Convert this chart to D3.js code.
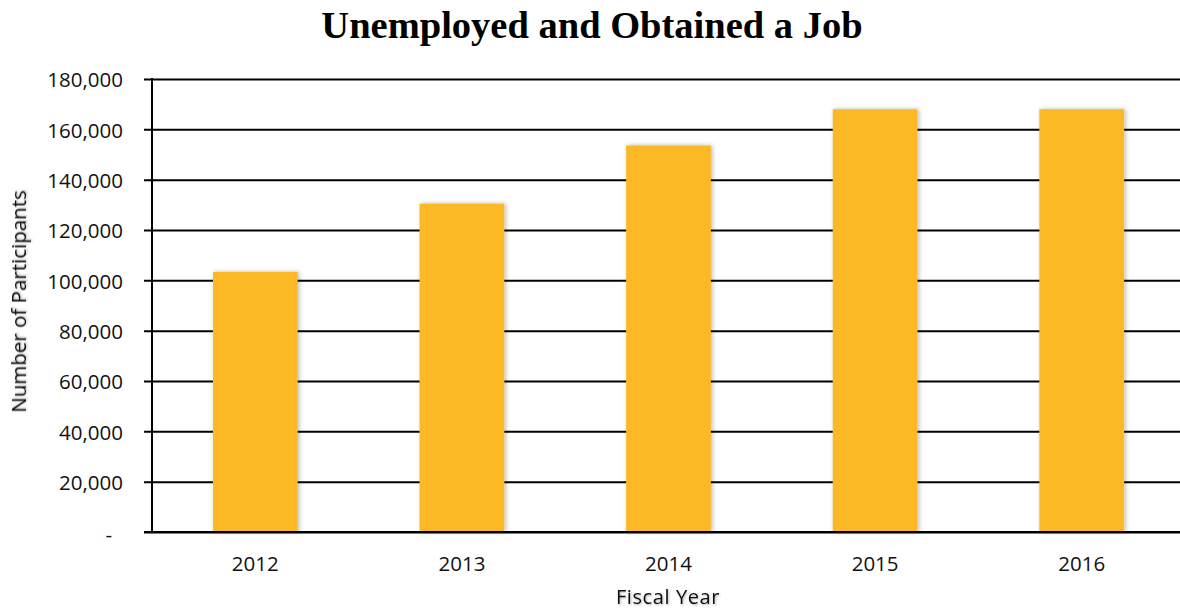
<!DOCTYPE html>
<html>
<head>
<meta charset="utf-8">
<script src="https://cdn.jsdelivr.net/npm/d3@7/dist/d3.min.js"></script>
<style>
  html, body { margin: 0; padding: 0; background: #fff; }
  svg { display: block; }
</style>
</head>
<body>
<svg id="chart" width="1180" height="611"></svg>
<script>
// Participants who were unemployed and obtained a job, by fiscal year
const years = ["2012", "2013", "2014", "2015", "2016"];
const participants = [103300, 130500, 153600, 168000, 168000];
const yTicks = [0, 20000, 40000, 60000, 80000, 100000, 120000, 140000, 160000, 180000];

const svg = d3.select("#chart");
const W = 1180, H = 611;
const plotLeft = 152, plotRight = 1185, plotTop = 79, plotBottom = 532;
const labelFont = "'Open Sans', Lato, sans-serif";

const x = d3.scaleBand().domain(years).range([plotLeft, plotRight]).paddingInner(0.59).paddingOuter(0.295);
const y = d3.scaleLinear().domain([0, 180000]).range([plotBottom, plotTop]);

const defs = svg.append("defs");
const sh = defs.append("filter").attr("id", "barShadow")
  .attr("x", "-20%").attr("y", "-20%").attr("width", "140%").attr("height", "140%");
sh.append("feDropShadow").attr("dx", 1.5).attr("dy", 0).attr("stdDeviation", 2)
  .attr("flood-color", "#000").attr("flood-opacity", 0.28);
const tsh = defs.append("filter").attr("id", "textShadow")
  .attr("x", "-20%").attr("y", "-40%").attr("width", "140%").attr("height", "180%");
tsh.append("feDropShadow").attr("dx", 1).attr("dy", 1).attr("stdDeviation", 1)
  .attr("flood-color", "#000").attr("flood-opacity", 0.3);

// Horizontal gridlines with outward tick marks on the value axis
const yAxis = d3.axisLeft(y)
  .tickValues(yTicks)
  .tickSize(-(W - plotLeft))
  .tickSizeOuter(0)
  .tickFormat(d => d === 0 ? "-" : d3.format(",")(d));

const gy = svg.append("g").attr("transform", `translate(${plotLeft},0)`).call(yAxis);
gy.select(".domain").remove();
gy.selectAll(".tick line")
  .attr("x1", -8)
  .attr("stroke", "#000").attr("stroke-width", 2);
gy.selectAll(".tick text")
  .attr("font-family", labelFont)
  .attr("font-size", 20.5)
  .attr("fill", "#111")
  .attr("x", d => d === 0 ? -40 : -29)
  .attr("dy", d => d === 0 ? "0.45em" : "0.38em");

// Bars
svg.append("g").selectAll("rect")
  .data(years.map((yr, i) => ({ yr, v: participants[i] })))
  .join("rect")
  .attr("x", d => x(d.yr))
  .attr("width", x.bandwidth())
  .attr("y", d => y(d.v))
  .attr("height", d => y(0) - y(d.v))
  .attr("fill", "#FDB827")
  .attr("filter", "url(#barShadow)");

// Vertical axis line and baseline
svg.append("line").attr("x1", plotLeft).attr("x2", plotLeft).attr("y1", plotTop - 1).attr("y2", plotBottom + 1)
  .attr("stroke", "#000").attr("stroke-width", 2);
svg.append("line").attr("x1", plotLeft - 8).attr("x2", W).attr("y1", y(0)).attr("y2", y(0))
  .attr("stroke", "#000").attr("stroke-width", 2);

// Category axis labels
const xAxis = d3.axisBottom(x).tickSize(0).tickPadding(24);
const gx = svg.append("g").attr("transform", `translate(0,${plotBottom})`).call(xAxis);
gx.select(".domain").remove();
gx.selectAll(".tick text")
  .attr("font-family", labelFont)
  .attr("font-size", 20.5)
  .attr("fill", "#111");

// Title
svg.append("text")
  .attr("x", 592).attr("y", 38)
  .attr("text-anchor", "middle")
  .attr("font-family", "'Liberation Serif', 'Times New Roman', serif")
  .attr("font-weight", "bold")
  .attr("font-size", 38.5)
  .attr("fill", "#000")
  .text("Unemployed and Obtained a Job");

// Axis titles
svg.append("text")
  .attr("transform", `translate(26,${(plotTop + plotBottom) / 2 - 4}) rotate(-90)`)
  .attr("text-anchor", "middle")
  .attr("font-family", labelFont)
  .attr("font-size", 20.5)
  .attr("fill", "#111")
  .attr("filter", "url(#textShadow)")
  .text("Number of Participants");

svg.append("text")
  .attr("x", 668).attr("y", 604)
  .attr("text-anchor", "middle")
  .attr("font-family", labelFont)
  .attr("font-size", 20)
  .attr("letter-spacing", 0.6)
  .attr("fill", "#111")
  .attr("filter", "url(#textShadow)")
  .text("Fiscal Year");
</script>
</body>
</html>
